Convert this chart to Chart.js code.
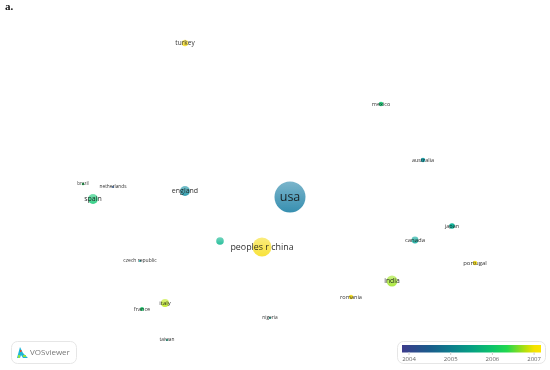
<!DOCTYPE html>
<html>
<head>
<meta charset="utf-8">
<title>VOSviewer overlay map</title>
<script src="https://cdn.jsdelivr.net/npm/chart.js@4/dist/chart.umd.min.js"></script>
<style>
  html, body { margin: 0; padding: 0; background: #fff; }
  canvas { display: block; }
</style>
</head>
<body>
<canvas id="map" width="550" height="370"></canvas>
<script>
const countries = ['usa', 'peoples r china', 'england', 'spain', 'india', 'italy', '', 'canada', 'turkey', 'japan',
  'mexico', 'australia', 'portugal', 'romania', 'france', 'brazil', 'netherlands', 'czech republic', 'nigeria', 'taiwan'];
const mapX = [290, 262, 185, 93, 392, 165, 220, 415, 185, 452, 381, 423, 475, 351, 142, 83, 113, 140, 270, 167];
const mapY = [197, 247, 191, 199, 281, 303, 241, 240, 43, 226, 104, 160, 263, 297, 309, 184, 187, 261, 318, 340];
const weights = [15.5, 9.5, 5, 5, 5.5, 4, 3.8, 3.4, 3.2, 2.8, 2.3, 2.2, 2.2, 2.2, 2, 1.3, 1, 1, 1, 1];
const years = [2004.8, 2007, 2005.1, 2005.9, 2006.7, 2006.8, 2005.6, 2005.4, 2007, 2005.5,
  2005.9, 2005.2, 2007, 2007, 2006, 2006.1, 2004.2, 2005.3, 2005.5, 2005.6];
const labelSizes = [12.5, 8.9, 7, 7, 6.8, 6, 0, 6, 6.5, 5.5, 5.5, 5.5, 6, 5.6, 5.5, 4.5, 4.8, 5, 4.8, 4.8];

const yearTicks = [2004, 2005, 2006, 2007];
const rampYears = [2003.8, 2004.5, 2005, 2005.5, 2006, 2006.35, 2006.8, 2007, 2007.2];
const rampColors = ['#3d3c8c', '#1a5c8c', '#0d7d8c', '#06a083', '#0cc46a', '#22d84e', '#b9e00c', '#f5e200', '#fbe600'];
const nodeColors = ['#3d3c8c', '#1c6fa0', '#1a8aa8', '#06b096', '#20d070', '#40de4e', '#bde81c', '#f7de20', '#fbe600'];

function hexToRgb(hex) {
  return [1, 3, 5].map(i => parseInt(hex.substr(i, 2), 16));
}

function yearColor(year, alpha) {
  let i = 0;
  while (i < rampYears.length - 2 && year > rampYears[i + 1]) i++;
  const t = Math.min(1, Math.max(0, (year - rampYears[i]) / (rampYears[i + 1] - rampYears[i])));
  const a = hexToRgb(nodeColors[i]);
  const b = hexToRgb(nodeColors[i + 1]);
  const c = a.map((v, k) => Math.round(v + (b[k] - v) * t));
  return `rgba(${c[0]},${c[1]},${c[2]},${alpha})`;
}

function roundBox(ctx, x, y, w, h) {
  ctx.beginPath();
  ctx.roundRect(x, y, w, h, 6);
  ctx.fillStyle = '#fff';
  ctx.fill();
  ctx.lineWidth = 1;
  ctx.strokeStyle = '#e6e6e6';
  ctx.stroke();
}

// country names on top of the bubbles
const nodeLabels = {
  id: 'nodeLabels',
  afterDatasetsDraw(chart) {
    const ctx = chart.ctx;
    const points = chart.getDatasetMeta(0).data;
    ctx.save();
    ctx.textAlign = 'center';
    ctx.textBaseline = 'middle';
    points.forEach((pt, i) => {
      if (!countries[i]) return;
      ctx.font = `${labelSizes[i]}px "Open Sans"`;
      ctx.fillStyle = 'rgba(20,20,20,0.9)';
      ctx.fillText(countries[i], pt.x, pt.y);
    });
    ctx.restore();
  }
};

// panel letter, logo box and colour bar
const decorations = {
  id: 'decorations',
  afterDraw(chart) {
    const ctx = chart.ctx;
    ctx.save();

    ctx.fillStyle = '#111';
    ctx.font = 'bold 11px "Liberation Serif"';
    ctx.textBaseline = 'middle';
    ctx.fillText('a.', 5, 7);

    roundBox(ctx, 11.5, 341.5, 65, 22);
    ctx.fillStyle = '#1fb5d6';
    ctx.beginPath();
    ctx.moveTo(17, 358);
    ctx.lineTo(20, 347);
    ctx.lineTo(23, 353);
    ctx.lineTo(28, 358);
    ctx.lineTo(23, 358);
    ctx.lineTo(21, 355);
    ctx.lineTo(20, 358);
    ctx.closePath();
    ctx.fill();
    ctx.fillStyle = '#8be04a';
    ctx.fillRect(18, 355, 2, 3);
    ctx.fillRect(23, 355, 3, 2);
    ctx.fillStyle = '#e84a2a';
    ctx.fillRect(20, 350, 1.5, 2);
    ctx.fillStyle = '#777';
    ctx.font = '8px "Open Sans"';
    ctx.fillText('VOSviewer', 30, 352.5);

    roundBox(ctx, 397.5, 341.5, 148, 22);
    const barLeft = 402, barRight = 541;
    const perYear = 41.7, firstTick = 409;
    const grad = ctx.createLinearGradient(barLeft, 0, barRight, 0);
    rampYears.forEach((y, i) => {
      const px = firstTick + (y - yearTicks[0]) * perYear;
      grad.addColorStop(Math.min(1, Math.max(0, (px - barLeft) / (barRight - barLeft))), rampColors[i]);
    });
    ctx.fillStyle = grad;
    ctx.fillRect(barLeft, 345, barRight - barLeft, 7.5);
    ctx.strokeStyle = '#ccc';
    ctx.textAlign = 'center';
    ctx.font = '6px "Open Sans"';
    yearTicks.forEach(y => {
      const px = firstTick + (y - yearTicks[0]) * perYear;
      ctx.beginPath();
      ctx.moveTo(px, 352);
      ctx.lineTo(px, 355);
      ctx.stroke();
      ctx.fillStyle = '#666';
      ctx.fillText(String(y), px, 359.5);
    });
    ctx.restore();
  }
};

new Chart(document.getElementById('map'), {
  type: 'bubble',
  data: {
    datasets: [{
      data: countries.map((c, i) => ({ x: mapX[i], y: mapY[i], r: weights[i] })),
      backgroundColor: ctx => {
        const i = ctx.dataIndex;
        if (i === undefined) return '#ccc';
        const py = ctx.chart.scales.y ? ctx.chart.scales.y.getPixelForValue(mapY[i]) : NaN;
        if (!isFinite(py) || weights[i] < 3) return yearColor(years[i], 0.95);
        const r = weights[i];
        const g = ctx.chart.ctx.createLinearGradient(0, py - r, 0, py + r);
        g.addColorStop(0, yearColor(years[i], 0.58));
        g.addColorStop(1, yearColor(years[i], 0.88));
        return g;
      },
      borderWidth: 0,
      hoverBorderWidth: 0
    }]
  },
  options: {
    responsive: false,
    animation: false,
    layout: { padding: 0, autoPadding: false },
    plugins: { legend: { display: false }, tooltip: { enabled: false } },
    scales: {
      x: { type: 'linear', min: 0, max: 550, display: false },
      y: { type: 'linear', min: 0, max: 370, reverse: true, display: false }
    }
  },
  plugins: [nodeLabels, decorations]
});
</script>
</body>
</html>
